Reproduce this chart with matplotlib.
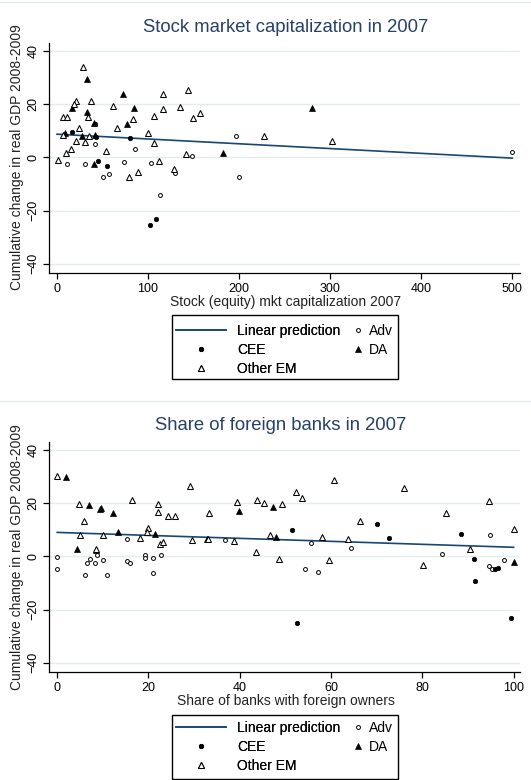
import numpy as np
import matplotlib
matplotlib.use("Agg")
import matplotlib.pyplot as plt
from matplotlib.lines import Line2D
from matplotlib.patches import Rectangle

plt.rcParams['font.family'] = ['Liberation Sans', 'DejaVu Sans']

# ---------------- data: panel 1 (stock market capitalization) ----------------
stock_adv_x = [11, 31, 42, 86, 51, 57, 74, 103, 130, 113, 148, 197, 200, 500]
stock_adv_y = [-2.4, -2.4, 5, 3.1, -7.3, -6.4, -1.6, -2, -6, -14.2, 0.5, 8, -7.3, 1.9]

stock_cee_x = [17, 80, 45.5, 55, 102, 109, 42, 42.5]
stock_cee_y = [9.7, 7.2, -1.3, -3.3, -25.5, -23.3, 12.5, 7.8]

stock_da_x = [8.5, 27, 42, 40.5, 182, 33, 72, 280, 16, 85, 33, 41, 77]
stock_da_y = [9, 8, 8.5, -2.5, 1.6, 29.5, 24, 18.5, 18.6, 18.4, 17, 13, 12.5]

stock_oem_x = [7, 24, 21.4, 30.6, 35, 65.6, 100, 106.5, 54, 15.5, 9.6, 0.7, 79, 88.4,
               111.5, 128, 142, 227, 301.8, 29, 116, 144, 21, 19, 37, 61, 7, 11.5,
               33.5, 84, 107, 116, 135, 149, 157]
stock_oem_y = [8.5, 10.9, 6.3, 5.9, 8, 10.9, 9.1, 5.5, 2.5, 3.3, 1.5, -1, -7.3, -5.4,
               -1.4, -4.4, 1.2, 8.2, 6.2, 34, 24, 25.5, 21, 20, 21, 19.2, 15, 15,
               15, 14.6, 15.5, 18, 19, 14.8, 16.5]

stock_fit = [8.7, -0.018]          # intercept, slope of linear prediction
stock_range = [0, 500]

# ---------------- data: panel 2 (share of foreign banks) ----------------
bank_adv_x = [0, 0, 6.1, 6.6, 7.1, 8.3, 8.8, 10.1, 11, 15.2, 15.3, 16, 19.3, 19.3,
              20.9, 20.9, 22.8, 36.8, 54.2, 55.6, 57.1, 64.3, 84.4, 94.8, 94.7, 95.3, 97.8]
bank_adv_y = [-0.2, -4.6, -7.1, -2.5, -1.1, -2.5, 0.4, -1.5, -7.1, 6.4, -1.9, -2.4, 0.4, -0.6,
              -0.6, -6.25, 0.4, 6, -4.6, 5, -5.9, 3.25, 1, 8.1, -3.6, -4.6, -1.5]

bank_cee_x = [51.4, 52.5, 70, 72.8, 88.4, 91.4, 91.6, 96, 96.6, 99.5]
bank_cee_y = [9.75, -25.25, 12.2, 7, 8.3, -1.1, -9.4, -4.6, -4.4, -23.1]

bank_da_x = [2, 7, 9.6, 9.3, 12.3, 4.4, 8.5, 13.3, 21.4, 32.9, 39.8, 47.2, 48, 100]
bank_da_y = [29.8, 19.3, 18.3, 17.8, 16.2, 2.9, 2.5, 9.1, 8.25, 6.4, 17.2, 18.6, 7.4, -2.2]

bank_oem_x = [0, 4.8, 5.9, 16.4, 22, 22, 24.3, 25.9, 29.2, 33.3, 39.5, 43.8, 45.4, 49.2,
              52.3, 53.6, 60.6, 66.4, 76, 85.2, 94.7, 100, 4.9, 8.5, 10.1, 18.2, 20, 19.7,
              22.6, 23.1, 29.5, 33, 38.7, 43.6, 46.7, 48.6, 58, 59.5, 63.8, 80.1, 90.5]
bank_oem_y = [30.2, 19.7, 13.3, 21, 19.7, 16.8, 15, 15, 26.3, 16.3, 20.6, 21, 20, 19.5,
              24.1, 22, 28.8, 13.4, 25.8, 16.3, 20.7, 10.4, 7.9, 2.7, 7.9, 7, 10.75, 9.1,
              4.75, 5.4, 6, 6.6, 5.6, 1.6, 8.2, -1, 7.4, -1.4, 6.4, -3.1, 2.9]

bank_fit = [9.0, -0.056]
bank_range = [0, 100]

titles = ["Stock market capitalization in 2007", "Share of foreign banks in 2007"]
xlabels = ["Stock (equity) mkt capitalization 2007", "Share of banks with foreign owners"]
ylabel = "Cumulative change in real GDP 2008-2009"
legend_labels = ["Linear prediction", "Adv", "CEE", "DA", "Other EM"]
y_ticks = [-40, -20, 0, 20, 40]
stock_xticks = [0, 100, 200, 300, 400, 500]
bank_xticks = [0, 20, 40, 60, 80, 100]

# ---------------- styling ----------------
W, H = 531, 780
fig = plt.figure(figsize=(W / 100, H / 100), dpi=100)
fig.patch.set_facecolor('white')

LINE_C = '#1a476f'
TITLE_C = '#26406a'
GRID_C = '#e4ecef'

def fx(px):
    return px / W

def fy(py):
    return 1 - py / H

styles = {
    'adv': dict(marker='o', ms=2.8, mfc='white', mec='black', mew=0.7, ls='none'),
    'cee': dict(marker='o', ms=3.2, mfc='black', mec='black', mew=0.5, ls='none'),
    'da': dict(marker='^', ms=4.3, mfc='black', mec='black', mew=0.5, ls='none'),
    'oem': dict(marker='^', ms=4.0, mfc='white', mec='black', mew=0.75, ls='none'),
}

def panel(top_px, bot_px, xlim, xticks, data, fit, rng, title, title_xy, xlabel, xlabel_y,
          ylabel_y, legend_top, legend_off):
    ax = fig.add_axes([fx(49), fy(bot_px), fx(520) - fx(49), fy(top_px) - fy(bot_px)])
    ax.set_facecolor('white')
    ax.set_xlim(*xlim)
    ax.set_ylim(-43.5, 43)
    ax.set_yticks(y_ticks)
    ax.set_xticks(xticks)
    ax.yaxis.grid(True, color=GRID_C, lw=1.0)
    ax.set_axisbelow(True)
    for s in ['top', 'right']:
        ax.spines[s].set_visible(False)
    for s in ['left', 'bottom']:
        ax.spines[s].set_linewidth(0.9)
    ax.tick_params(axis='both', direction='out', length=4.5, width=0.9, labelsize=9,
                   pad=2.5)
    for t in ax.get_yticklabels():
        t.set_rotation(90)
        t.set_va('center')

    xs = np.linspace(rng[0], rng[1], 200)
    ax.plot(xs, fit[0] + fit[1] * xs, color=LINE_C, lw=1.2, zorder=2)
    (ax_x, ax_y), (ce_x, ce_y), (da_x, da_y), (oe_x, oe_y) = data
    ax.plot(ax_x, ax_y, **styles['adv'], zorder=3)
    ax.plot(ce_x, ce_y, **styles['cee'], zorder=3)
    ax.plot(da_x, da_y, **styles['da'], zorder=3)
    ax.plot(oe_x, oe_y, **styles['oem'], zorder=3)

    fig.text(fx(title_xy[0]), fy(title_xy[1]), title, ha='center', va='center',
             fontsize=13.3, color=TITLE_C)
    fig.text(fx(286), fy(xlabel_y), xlabel, ha='center', va='center', fontsize=10,
             color='#222222')
    fig.text(fx(17), fy(ylabel_y), ylabel, ha='center', va='center', rotation=90,
             fontsize=10, color='#222222')

    # legend
    h_line = Line2D([], [], color=LINE_C, lw=1.2)
    h_adv = Line2D([], [], **styles['adv'])
    h_cee = Line2D([], [], **styles['cee'])
    h_da = Line2D([], [], **styles['da'])
    h_oem = Line2D([], [], **styles['oem'])
    box_l, box_r = 172, 398
    box_t, box_b = legend_top, legend_top + 64
    leg1 = fig.legend([h_line, h_cee, h_oem],
                      [legend_labels[0], legend_labels[2], legend_labels[4]],
                      loc='upper left',
                      bbox_to_anchor=(fx(box_l + 1), fy(box_t + legend_off)),
                      frameon=False, fontsize=10, handlelength=3.6, handletextpad=0.8,
                      labelspacing=0.38, borderaxespad=0, borderpad=0.2)
    fig.legend([h_adv, h_da], [legend_labels[1], legend_labels[3]],
               loc='upper left', bbox_to_anchor=(fx(350), fy(box_t + legend_off)),
               frameon=False, fontsize=10, handlelength=0.8, handletextpad=0.35,
               labelspacing=0.38, borderaxespad=0, borderpad=0.2)
    fig.add_artist(leg1)
    fig.add_artist(Rectangle((fx(box_l), fy(box_b)), fx(box_r) - fx(box_l),
                             fy(box_t) - fy(box_b), transform=fig.transFigure,
                             fill=False, ec='black', lw=1.0))
    return ax

panel(43, 273, (-8.8, 508.5), stock_xticks,
      [(stock_adv_x, stock_adv_y), (stock_cee_x, stock_cee_y),
       (stock_da_x, stock_da_y), (stock_oem_x, stock_oem_y)],
      stock_fit, stock_range, titles[0], (286, 27), xlabels[0], 302, 157, 315, 6)

panel(442, 672, (-1.8, 101.4), bank_xticks,
      [(bank_adv_x, bank_adv_y), (bank_cee_x, bank_cee_y),
       (bank_da_x, bank_da_y), (bank_oem_x, bank_oem_y)],
      bank_fit, bank_range, titles[1], (281, 426), xlabels[1], 701, 557, 715, 3)

# faint panel borders
for py in [2, 401]:
    fig.add_artist(Line2D([0, 1], [fy(py), fy(py)], transform=fig.transFigure,
                          color='#e3eaec', lw=1.0))

fig.savefig('out.png', dpi=100, facecolor='white')
